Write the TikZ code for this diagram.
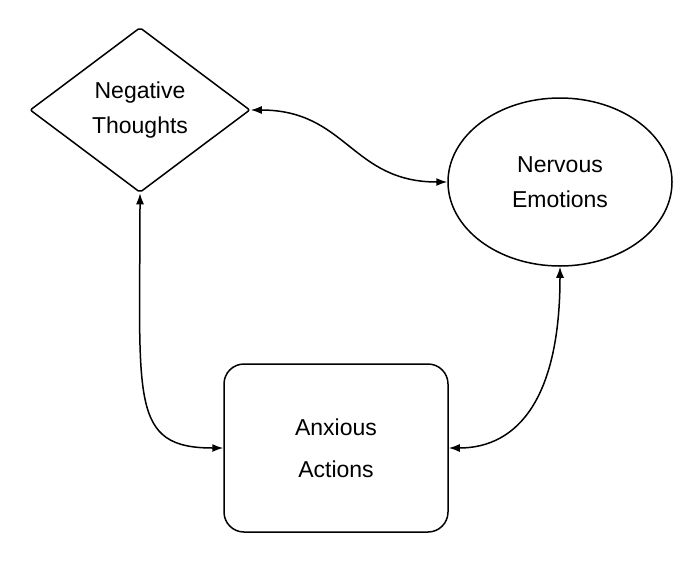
\documentclass[tikz,border=0pt]{standalone}
\usepackage{fontspec}
\setmainfont{Liberation Sans}
\usetikzlibrary{shapes.geometric,arrows.meta}
\begin{document}
\begin{tikzpicture}[x=1pt,y=-1pt,
  shapeline/.style={draw=black,line width=1.5pt},
  lbl/.style={align=center,font=\fontsize{23}{35}\selectfont},
  conn/.style={line width=1.5pt,{Latex[length=11pt,width=8pt]}-{Latex[length=11pt,width=8pt]}}]
\useasboundingbox[fill=white] (0,0) rectangle (700,560);
\node[shapeline,lbl,diamond,minimum width=220pt,minimum height=165pt,inner sep=0pt,rounded corners=2pt] (nt) at (140,110) {Negative\\Thoughts};
\node[shapeline,lbl,ellipse,minimum width=224pt,minimum height=168pt,inner sep=0pt] (ne) at (560,182) {Nervous\\Emotions};
\node[shapeline,align=center,font=\fontsize{23}{42}\selectfont,rectangle,rounded corners=20pt,minimum width=224pt,minimum height=168pt,inner sep=0pt] (aa) at (336,448) {Anxious\\Actions};
\draw[conn] (nt.east) .. controls +(96,0) and +(-96,0) .. (ne.west);
\draw[conn] (nt.south) .. controls +(0,207) and +(-94,0) .. (aa.west);
\draw[conn] (ne.south) .. controls +(0,130) and +(70,0) .. (aa.east);
\end{tikzpicture}
\end{document}
